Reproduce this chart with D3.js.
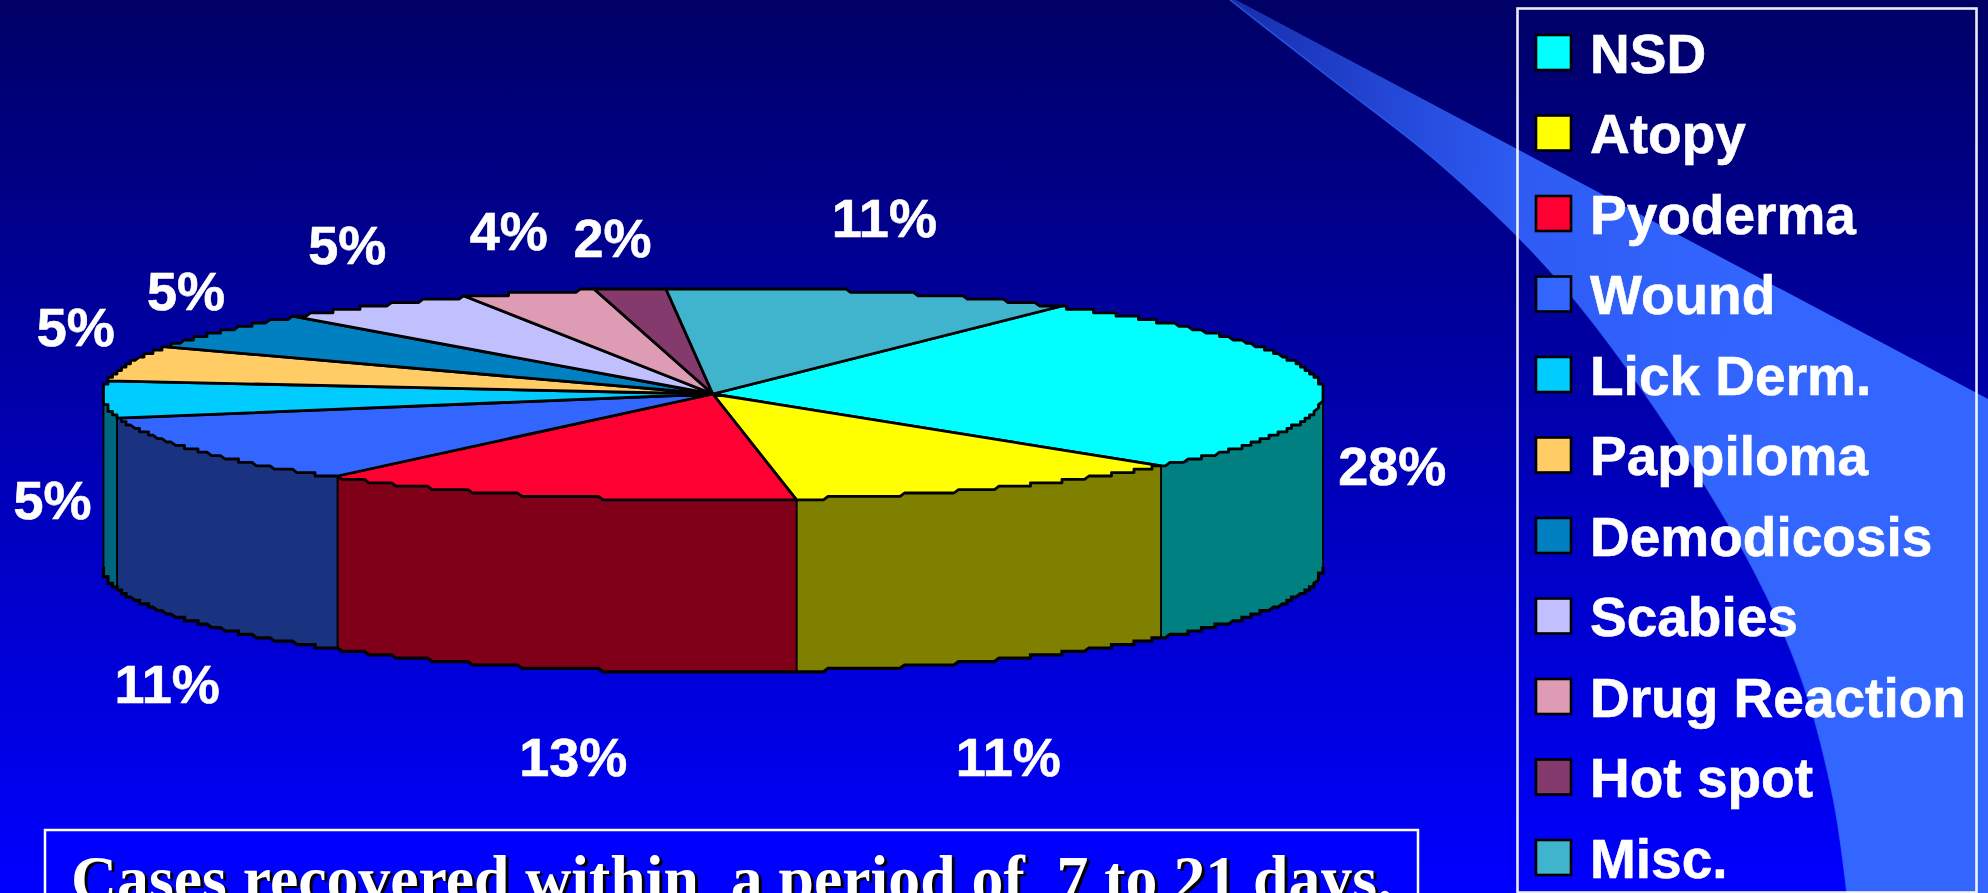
<!DOCTYPE html>
<html>
<head>
<meta charset="utf-8">
<title>Cases recovered within a period of 7 to 21 days</title>
<script src="https://cdn.jsdelivr.net/npm/d3@7"></script>
<style>
html,body{margin:0;padding:0;background:#0000ff;overflow:hidden}
svg{display:block}
text{white-space:pre}
</style>
</head>
<body>
<script>
// ---- data ----
const categories = ["NSD","Atopy","Pyoderma","Wound","Lick Derm.","Pappiloma","Demodicosis","Scabies","Drug Reaction","Hot spot","Misc."];
// slice sizes (the printed percentages are rounded)
const sliceShares = [15,6,7,6,3,3,3,3,2,1,6];
const percentLabels = ["28%","11%","13%","11%","5%","5%","5%","5%","4%","2%","11%"];
const colors     = ["#00ffff","#ffff00","#ff0033","#3366ff","#00ccff","#ffcc66","#0080c0","#c0c0ff","#dd9cb4","#843a6c","#40b4cc"];
const captionText = "Cases recovered within  a period of  7 to 21 days.";
// hand placement of each percentage label, relative to its slice's rim point
const labelNudgeX = [73,15,20,-30,-51,-53,-36,-25,-20,-18,12];
const labelNudgeY = [83.5,269,261,233.5,100.5,-36.5,-40.5,-61.5,-62,-50.5,-74];

// ---- layout ----
const W = 1988, H = 893;
const cx = 712.8, cy = 394, rx = 610, ry = 106, depth = 172;
const startDeg = 34.8;
const rad = Math.PI / 180;

const svg = d3.select("body").append("svg").attr("width", W).attr("height", H);
const defs = svg.append("defs");

const bg = defs.append("linearGradient").attr("id","bg").attr("x1",0).attr("y1",0).attr("x2",0).attr("y2",1);
bg.append("stop").attr("offset","0").attr("stop-color","#000066");
bg.append("stop").attr("offset","1").attr("stop-color","#0000ff");
svg.append("rect").attr("width",W).attr("height",H).attr("fill","url(#bg)");

// decorative swoosh
const swooshGrad = defs.append("linearGradient").attr("id","sw").attr("gradientUnits","userSpaceOnUse")
  .attr("x1",1230).attr("y1",0).attr("x2",1760).attr("y2",0);
swooshGrad.append("stop").attr("offset","0").attr("stop-color","#3366ff").attr("stop-opacity",0.45);
swooshGrad.append("stop").attr("offset","0.55").attr("stop-color","#3366ff").attr("stop-opacity",0.9);
swooshGrad.append("stop").attr("offset","1").attr("stop-color","#3366ff").attr("stop-opacity",1);
const swooshLower = [[1230,0],[1330,78],[1441,165],[1552,273],[1652,404],[1753,569],[1803,683],[1833,797],[1847,893]];
const lowerPath = d3.line().curve(d3.curveCatmullRom)(swooshLower);
svg.append("path").attr("d", lowerPath + "L1988,893L1988,399L1236,0Z").attr("fill","url(#sw)");
svg.append("path").attr("d", lowerPath).attr("fill","none").attr("stroke","#3366ff").attr("stroke-width",1.5).attr("stroke-opacity",0.7);

// pie
const px = d3.scaleLinear().domain([-1,1]).range([cx-rx,cx+rx]);
const py = d3.scaleLinear().domain([-1,1]).range([cy+ry,cy-ry]);
const pie = d3.pie().sort(null).startAngle(startDeg*rad).endAngle((startDeg+360)*rad);
const arcs = pie(sliceShares);

// the reference's rim is visibly stair-stepped by low-res scaling
const qx = v => Math.round(v/4.5)*4.5, qy = v => Math.round(v/3.4)*3.4;
function rim(a0, a1, dy){
  const n = Math.max(2, Math.ceil((a1-a0)/(0.4*rad)));
  return d3.range(n+1).map(i=>{
    const t = a0 + (a1-a0)*i/n;
    return [qx(px(Math.sin(t))), qy(py(Math.cos(t))) + dy];
  });
}
const line = d3.line();
const dark = c => { const r=d3.rgb(c); return d3.rgb(r.r*.5,r.g*.5,r.b*.5).formatHex(); };

// side wall (front half only)
const walls = svg.append("g");
arcs.forEach(a=>{
  [[a.startAngle,a.endAngle],[a.startAngle+2*Math.PI,a.endAngle+2*Math.PI]].forEach(([s,e])=>{
    const a0=Math.max(s,Math.PI/2), a1=Math.min(e,1.5*Math.PI);
    if(a1<=a0) return;
    const top=rim(a0,a1,0), bot=rim(a0,a1,depth).reverse();
    walls.append("path").attr("d",line(top.concat(bot))+"Z")
      .attr("fill",dark(colors[a.index])).attr("stroke","none");
    walls.append("path").attr("d",line(bot)).attr("fill","none").attr("stroke","#000").attr("stroke-width",3.2);
    walls.append("path").attr("d",line([top[0],bot[bot.length-1]])).attr("stroke","#000").attr("stroke-width",1.8);
    walls.append("path").attr("d",line([top[top.length-1],bot[0]])).attr("stroke","#000").attr("stroke-width",1.8);
  });
});

// top face
const tops = svg.append("g");
arcs.forEach(a=>{
  tops.append("path")
    .attr("d",line([[px(0),py(0)]].concat(rim(a.startAngle,a.endAngle,0)))+"Z")
    .attr("fill",colors[a.index]).attr("stroke","#000").attr("stroke-width",2.8).attr("stroke-linejoin","round");
});

// percentage labels
const labels = svg.append("g").attr("font-family","'Liberation Sans',Arial,sans-serif")
  .attr("font-weight","bold").attr("font-size",54).attr("fill","#fff").attr("stroke","#fff").attr("stroke-width",0.6).attr("text-anchor","middle");
arcs.forEach(a=>{
  const m=(a.startAngle+a.endAngle)/2;
  labels.append("text")
    .attr("x",px(Math.sin(m))+labelNudgeX[a.index])
    .attr("y",py(Math.cos(m))+labelNudgeY[a.index]+19)
    .text(percentLabels[a.index]);
});

// legend
svg.append("rect").attr("x",1517.5).attr("y",8.5).attr("width",459).attr("height",884)
  .attr("fill","none").attr("stroke","#fff").attr("stroke-width",2.6).attr("stroke-opacity",0.92);
const ly = d3.scalePoint().domain(categories).range([52.5,857.5]);
const leg = svg.append("g").attr("font-family","'Liberation Sans',Arial,sans-serif")
  .attr("font-weight","bold").attr("font-size",55).attr("fill","#fff").attr("stroke","#fff").attr("stroke-width",0.6);
categories.forEach((c,i)=>{
  leg.append("rect").attr("x",1536).attr("y",ly(c)-17.5).attr("width",35).attr("height",35)
    .attr("fill",colors[i]).attr("stroke","#000").attr("stroke-width",2.6);
  leg.append("text").attr("x",1590).attr("y",ly(c)+20).text(c);
});

// caption box
svg.append("rect").attr("x",45).attr("y",830).attr("width",1373).attr("height",80)
  .attr("fill","#0000ff").attr("stroke","#fff").attr("stroke-width",2.5);
const capAttrs = s => s.attr("font-family","'Liberation Serif','Times New Roman',serif").attr("font-weight","bold")
  .attr("font-size",66).attr("textLength",1322).attr("lengthAdjust","spacingAndGlyphs").text(captionText);
svg.append("text").attr("x",74).attr("y",903).attr("fill","#000").call(capAttrs);
svg.append("text").attr("x",71).attr("y",901).attr("fill","#fff").call(capAttrs);
</script>
</body>
</html>
